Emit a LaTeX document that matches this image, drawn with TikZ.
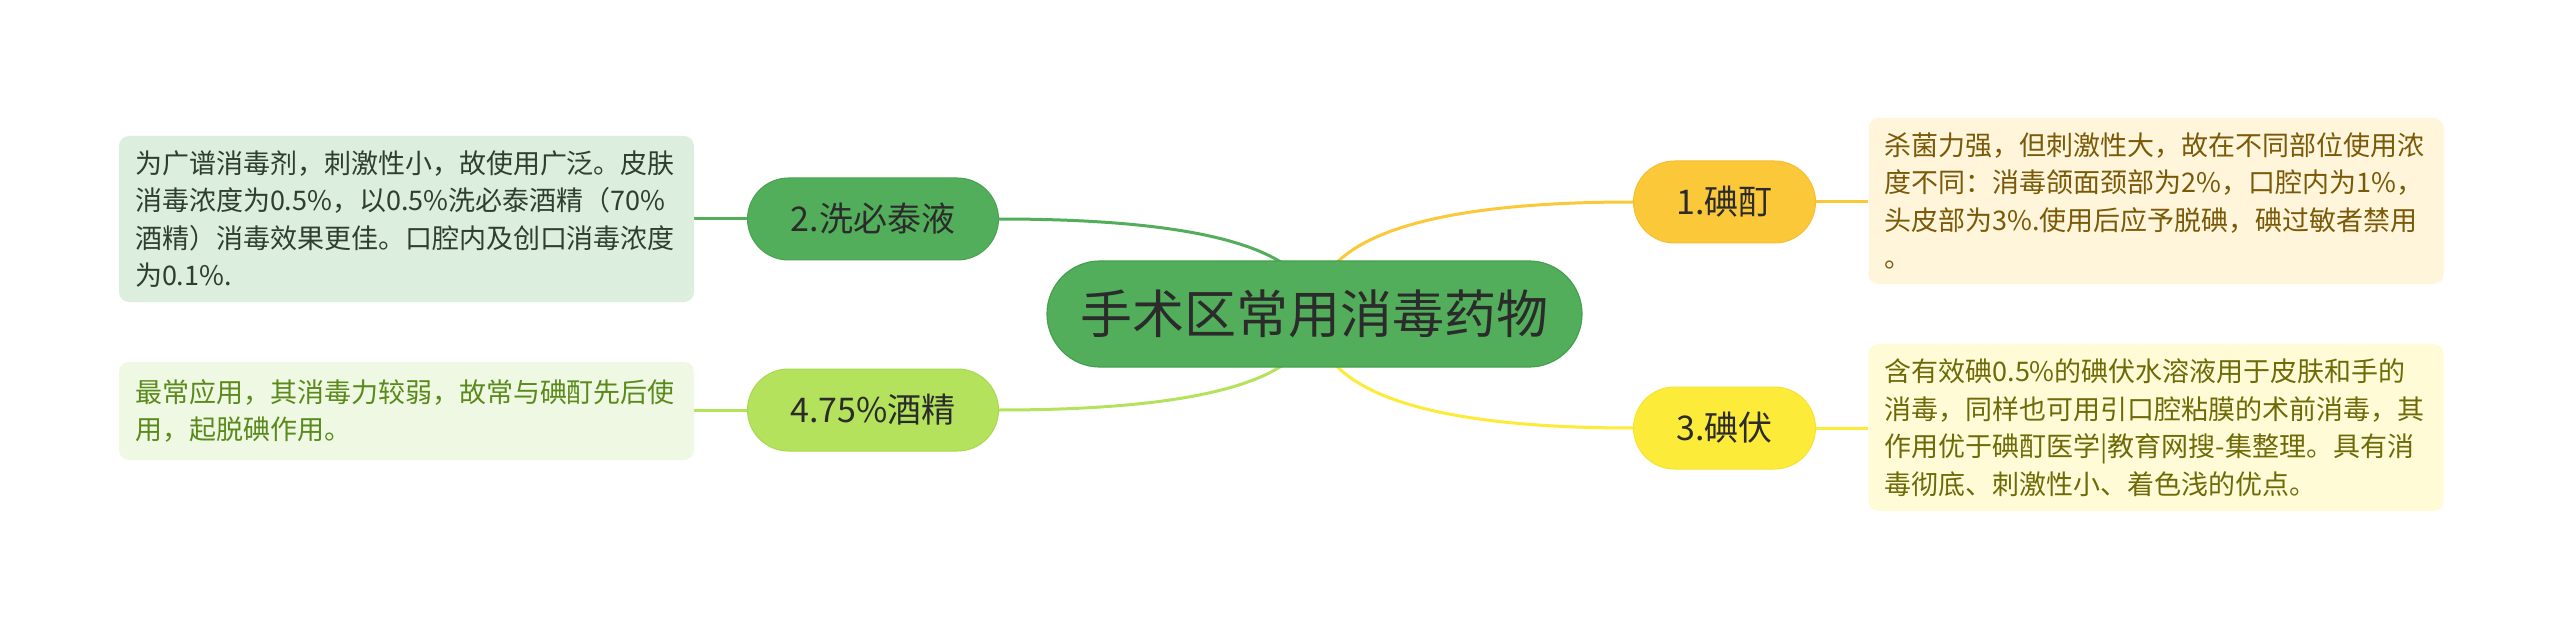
\documentclass[tikz,border=0pt]{standalone}
\usepackage{fontspec}
\newfontfamily\cjk{Noto Sans CJK SC}
\usetikzlibrary{calc,backgrounds}
\definecolor{cRoot}{HTML}{52AE5A}
\definecolor{cRootB}{HTML}{45A04D}
\definecolor{cGreen}{HTML}{52AE5A}
\definecolor{cGreenB}{HTML}{48A350}
\definecolor{cLime}{HTML}{B4E25C}
\definecolor{cLimeB}{HTML}{A8D850}
\definecolor{cAmber}{HTML}{FBC83A}
\definecolor{cAmberB}{HTML}{F5BE2E}
\definecolor{cYellow}{HTML}{FDEB3A}
\definecolor{cYellowB}{HTML}{F7E232}
\definecolor{cText}{HTML}{2B2B2B}
\definecolor{fGreen}{HTML}{DCEEDD}
\definecolor{tGreen}{HTML}{2E3E2F}
\definecolor{fLime}{HTML}{EFF8E2}
\definecolor{tLime}{HTML}{5A8A1C}
\definecolor{fAmber}{HTML}{FFF5DB}
\definecolor{tAmber}{HTML}{7A5A08}
\definecolor{fYellow}{HTML}{FFFBD7}
\definecolor{tYellow}{HTML}{6E6A08}
\begin{document}
\begin{tikzpicture}[x=1pt,y=-1pt,
  root/.style={rectangle, rounded corners=53pt, minimum width=535pt, minimum height=106pt,
    inner sep=0pt, fill=cRoot, draw=cRootB, line width=1.2pt, text=cText,
    font=\cjk\fontsize{52}{60}\selectfont},
  branch/.style={rectangle, rounded corners=41pt, minimum height=82pt, inner sep=0pt,
    line width=1pt, text=cText, font=\cjk\fontsize{34}{40}\selectfont},
  note/.style={rectangle, rounded corners=10pt, inner sep=0pt, text width=543pt,
    minimum width=575pt, align=left, font=\cjk\fontsize{27}{37.5}\selectfont},
  edge/.style={line width=3pt}
]
\useasboundingbox (0,0) rectangle (2560,631);

% root
\node[root] (root) at (1314.5,314) {手术区常用消毒药物};

% branches
\node[branch, fill=cGreen, draw=cGreenB, minimum width=251pt] (n2) at (873,219) {2.洗必泰液};
\node[branch, fill=cLime, draw=cLimeB, minimum width=251pt] (n4) at (873,410) {4.75\%酒精};
\node[branch, fill=cAmber, draw=cAmberB, minimum width=182pt] (n1) at (1724.5,202) {1.碘酊};
\node[branch, fill=cYellow, draw=cYellowB, minimum width=182pt] (n3) at (1724.5,428) {3.碘伏};

% notes
\node[note, fill=fGreen, text=tGreen, minimum height=166pt] (b2) at (406.5,219)
  {为广谱消毒剂，刺激性小，故使用广泛。皮肤\\消毒浓度为0.5\%，以0.5\%洗必泰酒精（70\%\\酒精）消毒效果更佳。口腔内及创口消毒浓度\\为0.1\%.};
\node[note, fill=fLime, text=tLime, minimum height=98pt] (b4) at (406.5,411)
  {最常应用，其消毒力较弱，故常与碘酊先后使\\用，起脱碘作用。};
\node[note, fill=fAmber, text=tAmber, minimum height=166pt] (b1) at (2156,201)
  {杀菌力强，但刺激性大，故在不同部位使用浓\\度不同：消毒颌面颈部为2\%，口腔内为1\%，\\头皮部为3\%.使用后应予脱碘，碘过敏者禁用\\。};
\node[note, fill=fYellow, text=tYellow, minimum height=167pt] (b3) at (2156,427.5)
  {含有效碘0.5\%的碘伏水溶液用于皮肤和手的\\消毒，同样也可用引口腔粘膜的术前消毒，其\\作用优于碘酊医学|教育网搜-集整理。具有消\\毒彻底、刺激性小、着色浅的优点。};

% helper corners for quadratic curves
\coordinate (k2) at (root.center |- n2.east);
\coordinate (k4) at (root.center |- n4.east);
\coordinate (k1) at (root.center |- n1.west);
\coordinate (k3) at (root.center |- n3.west);

\begin{pgfonlayer}{background}
  \fill[white] (0,0) rectangle (2560,631);
  \draw[edge, cGreen] (root.center) .. controls ($(root.center)!2/3!(k2)$) and ($(n2.east)!2/3!(k2)$) .. (n2.east);
  \draw[edge, cLime] (root.center) .. controls ($(root.center)!2/3!(k4)$) and ($(n4.east)!2/3!(k4)$) .. (n4.east);
  \draw[edge, cAmber] (root.center) .. controls ($(root.center)!2/3!(k1)$) and ($(n1.west)!2/3!(k1)$) .. (n1.west);
  \draw[edge, cYellow] (root.center) .. controls ($(root.center)!2/3!(k3)$) and ($(n3.west)!2/3!(k3)$) .. (n3.west);
  \draw[edge, cGreen] (n2.west) -- (n2.west -| b2.east);
  \draw[edge, cLime] (n4.west) -- (n4.west -| b4.east);
  \draw[edge, cAmber] (n1.east) -- (n1.east -| b1.west);
  \draw[edge, cYellow] (n3.east) -- (n3.east -| b3.west);
\end{pgfonlayer}
\end{tikzpicture}
\end{document}
